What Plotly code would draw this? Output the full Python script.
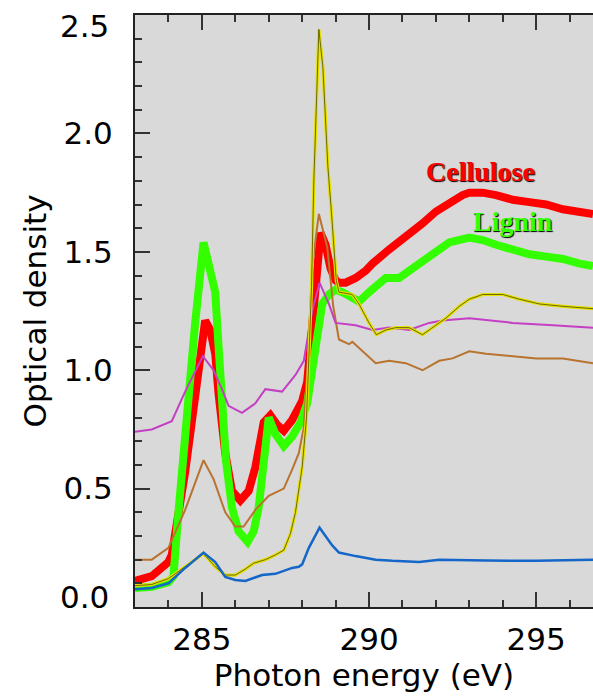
import plotly.graph_objects as go

# ---------------- data ----------------
cell_E = [283.0, 283.5, 284.0, 284.1, 284.5, 284.8, 285.0, 285.1, 285.25, 285.4, 285.5, 285.7,
          285.9, 286.15, 286.4, 286.6, 286.85, 287.05, 287.25, 287.45, 287.7, 288.0, 288.15,
          288.3, 288.45, 288.55, 288.7, 288.85, 289.0, 289.1, 289.3, 289.6, 289.9, 290.1,
          290.6, 291.1, 291.6, 292.0, 292.4, 292.8, 293.0, 293.4, 293.8, 294.3, 294.8, 295.3,
          295.8, 296.3, 296.7]
cell_OD = [0.11, 0.13, 0.19, 0.22, 0.57, 0.90, 1.15, 1.21, 1.17, 1.07, 0.90, 0.65,
           0.49, 0.45, 0.49, 0.59, 0.78, 0.81, 0.77, 0.745, 0.79, 0.87, 0.95,
           1.20, 1.50, 1.58, 1.53, 1.43, 1.38, 1.37, 1.37, 1.39, 1.42, 1.45,
           1.51, 1.56, 1.62, 1.67, 1.71, 1.74, 1.75, 1.75, 1.74, 1.72, 1.71, 1.70,
           1.68, 1.67, 1.66]

lig_E = [283.0, 283.5, 284.0, 284.15, 284.3, 284.5, 284.8, 285.05, 285.2, 285.4, 285.5,
         285.63, 285.72, 285.9, 286.1, 286.37, 286.55, 286.7, 286.85, 287.0, 287.2, 287.45,
         287.7, 287.95, 288.15, 288.3, 288.45, 288.6, 288.8, 289.0, 289.2, 289.5, 289.7,
         290.0, 290.2, 290.5, 290.9, 291.2, 291.6, 292.0, 292.4, 293.0, 293.4, 293.8, 294.3,
         294.8, 295.3, 295.8, 296.3, 296.7]
lig_OD = [0.08, 0.085, 0.105, 0.13, 0.40, 0.75, 1.20, 1.54, 1.45, 1.33, 1.10,
          0.79, 0.62, 0.42, 0.32, 0.275, 0.32, 0.42, 0.65, 0.80, 0.73, 0.68,
          0.72, 0.78, 0.86, 1.00, 1.17, 1.28, 1.32, 1.34, 1.33, 1.30, 1.29,
          1.33, 1.35, 1.39, 1.39, 1.42, 1.47, 1.51, 1.54, 1.56, 1.55, 1.53, 1.51,
          1.49, 1.48, 1.47, 1.45, 1.44]

yel_E = [283.0, 283.5, 284.0, 284.5, 285.05, 285.4, 285.7, 286.0, 286.3, 286.55, 286.9,
         287.2, 287.45, 287.65, 287.8, 288.0, 288.13, 288.2, 288.28, 288.35, 288.5, 288.62,
         288.77, 288.88, 289.02, 289.1, 289.5, 289.7, 290.0, 290.22, 290.5, 290.8, 291.2,
         291.6, 292.0, 292.3, 292.7, 293.0, 293.4, 294.0, 294.5, 295.1, 295.8, 296.7]
yel_OD = [0.09, 0.095, 0.12, 0.17, 0.225, 0.17, 0.135, 0.135, 0.16, 0.185, 0.20,
          0.22, 0.24, 0.31, 0.40, 0.59, 0.80, 1.05, 1.35, 1.80, 2.44, 2.28,
          1.86, 1.66, 1.38, 1.33, 1.32, 1.28, 1.20, 1.15, 1.17, 1.18, 1.18,
          1.15, 1.19, 1.22, 1.27, 1.30, 1.32, 1.32, 1.30, 1.28, 1.27, 1.26]

brn_E = [283.0, 283.5, 284.0, 284.5, 285.05, 285.35, 285.7, 286.0, 286.25, 286.6, 287.0,
         287.45, 287.7, 287.9, 288.05, 288.15, 288.3, 288.5, 288.75, 288.93, 289.1, 289.4,
         289.5, 289.9, 290.2, 290.6, 291.1, 291.6, 292.1, 292.5, 293.0, 293.5, 294.3, 295.0,
         295.8, 296.7]
brn_OD = [0.20, 0.20, 0.25, 0.41, 0.62, 0.54, 0.40, 0.34, 0.34, 0.41, 0.47,
          0.50, 0.58, 0.65, 0.76, 0.99, 1.44, 1.66, 1.52, 1.27, 1.13, 1.11,
          1.12, 1.07, 1.03, 1.04, 1.03, 1.00, 1.04, 1.05, 1.08, 1.07, 1.06, 1.05,
          1.05, 1.03]

mag_E = [283.0, 283.5, 284.1, 284.5, 285.03, 285.35, 285.6, 285.8, 286.2, 286.4, 286.6,
         286.9, 287.4, 287.8, 288.05, 288.3, 288.52, 288.8, 289.0, 289.6, 290.1, 290.6,
         291.2, 291.8, 292.2, 293.0, 294.3, 295.5, 296.7]
mag_OD = [0.74, 0.75, 0.785, 0.91, 1.06, 1.00, 0.92, 0.85, 0.82, 0.84, 0.86,
          0.92, 0.91, 0.98, 1.04, 1.25, 1.37, 1.28, 1.20, 1.19, 1.17, 1.18,
          1.17, 1.20, 1.21, 1.22, 1.20, 1.19, 1.18]

blu_E = [283.0, 283.5, 284.0, 284.5, 285.05, 285.4, 285.7, 286.0, 286.3, 286.8, 287.2,
         287.7, 287.9, 288.0, 288.2, 288.52, 288.9, 289.1, 289.6, 290.2, 290.7, 291.5,
         292.1, 293.5, 295.0, 296.7]
blu_OD = [0.075, 0.08, 0.10, 0.165, 0.23, 0.19, 0.127, 0.114, 0.11, 0.135, 0.14,
          0.165, 0.17, 0.18, 0.25, 0.335, 0.26, 0.23, 0.215, 0.20, 0.195, 0.19,
          0.20, 0.196, 0.195, 0.20]

x_ticks = [285, 290, 295]
y_ticks = [0.0, 0.5, 1.0, 1.5, 2.0, 2.5]
y_ticktext = ["0.0", "0.5", "1.0", "1.5", "2.0", "2.5"]
y_edge = [0, 5]  # indices of the end labels, which the original nudges inside the frame

# ---------------- figure ----------------
fig = go.Figure()

def line(x, y, color, width):
    fig.add_trace(go.Scatter(x=x, y=y, mode="lines", showlegend=False, hoverinfo="skip",
                             line=dict(color=color, width=width)))

line(cell_E, cell_OD, "#ff0000", 8)
line(lig_E, lig_OD, "#33ff00", 8)
line(brn_E, brn_OD, "#b8732f", 2)
line(mag_E, mag_OD, "#c43fc4", 2)
line(yel_E, yel_OD, "#e6e000", 3.2)
line(yel_E, yel_OD, "#4d4d00", 0.8)
line(blu_E, blu_OD, "#1466c8", 2.5)

fig.add_annotation(x=293.33, y=1.84, xref="x", yref="y", text="Cellulose", showarrow=False,
                   font=dict(family="Liberation Serif", size=28, color="#ff0000", weight="bold",
                             shadow="1px 1px 1px #000"))
fig.add_annotation(x=294.31, y=1.63, xref="x", yref="y", text="Lignin", showarrow=False,
                   font=dict(family="Liberation Serif", size=28, color="#33ff00", weight="bold",
                             shadow="1px 1px 1px #000"))

axis_font = dict(family="DejaVu Sans", size=31, color="#000")

# end labels of the y axis, nudged inside like in the original
for i in y_edge:
    fig.add_annotation(x=0, xref="paper", xanchor="right", xshift=-24,
                       y=y_ticks[i], yref="y", yanchor="middle",
                       yshift=(-11 if i == len(y_ticks) - 1 else 10),
                       text=y_ticktext[i], showarrow=False, font=axis_font)

tick_labels = [("" if i in y_edge else t) for i, t in enumerate(y_ticktext)]

fig.update_layout(
    width=593, height=696,
    margin=dict(l=135, r=0, t=15, b=89),
    paper_bgcolor="#ffffff",
    plot_bgcolor="#d9d9d9",
    showlegend=False,
)
fig.update_xaxes(
    range=[283, 296.7], tickvals=x_ticks, ticks="inside", ticklen=15, tickwidth=2,
    tickcolor="#333", showline=True, linecolor="#222", linewidth=2, mirror="ticks",
    showgrid=False, zeroline=False, tickfont=axis_font, ticklabelstandoff=4,
    ticklabeloverflow="allow",
    minor=dict(ticks="inside", ticklen=7, dtick=1, tickwidth=1.5, tickcolor="#333", showgrid=False),
    title=dict(text="Photon energy (eV)", font=axis_font, standoff=4),
    automargin=False,
)
fig.update_yaxes(
    range=[0, 2.5005], tickvals=y_ticks, ticktext=tick_labels, ticks="inside", ticklen=15,
    tickwidth=2, tickcolor="#333", showline=True, linecolor="#222", linewidth=2,
    showgrid=False, zeroline=False, tickfont=axis_font, ticklabelstandoff=14,
    ticklabeloverflow="allow",
    minor=dict(ticks="inside", ticklen=7, dtick=0.1, tickwidth=1.5, tickcolor="#333", showgrid=False),
    title=dict(text="Optical density", font=axis_font, standoff=8),
    automargin=False,
)

fig.write_html("out.html")
